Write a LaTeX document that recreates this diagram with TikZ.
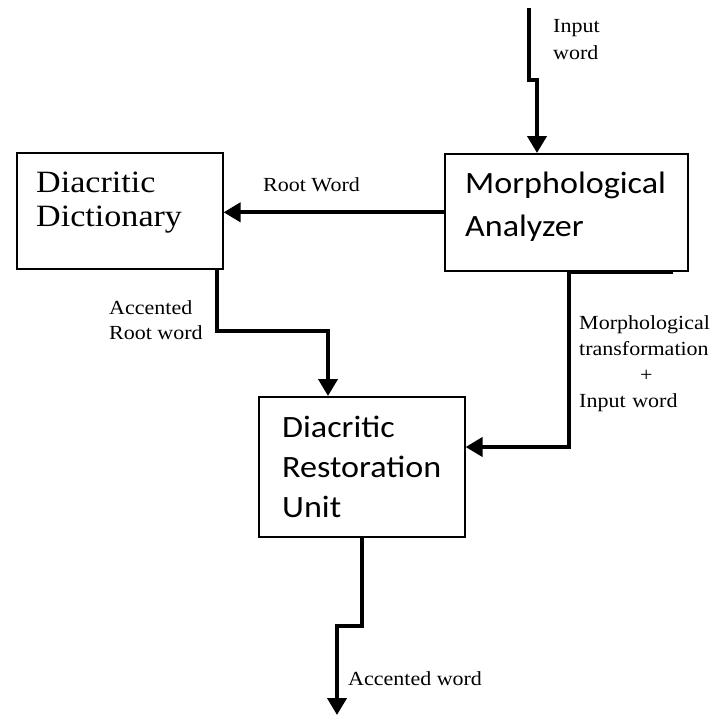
\documentclass[tikz,border=0pt]{standalone}
\usepackage{fontspec}
\setmainfont{Liberation Serif}[FakeStretch=1.1]
\newfontfamily\calfont{Carlito}[FakeStretch=1.1]
\usetikzlibrary{arrows.meta,calc}
\tikzset{
  box/.style={draw, line width=1.6pt, inner sep=0pt, anchor=north west},
  conn/.style={line width=4pt, -{Triangle[length=17pt,width=19pt]}},
  bigserif/.style={font=\fontsize{31}{34}\selectfont, align=left, inner sep=0pt, anchor=base west},
  bigsans/.style={font=\calfont\fontsize{31}{#1}\selectfont, align=left, inner sep=0pt, anchor=base west},
  lbl/.style={font=\fontsize{20}{26}\selectfont, align=left, inner sep=0pt, anchor=base west}
}
\begin{document}
\begin{tikzpicture}[x=1pt,y=-1pt]
\useasboundingbox (0,0) rectangle (717,715);
% boxes
\node[box, minimum width=206pt, minimum height=116pt] (dict) at (16,152) {};
\node[box, minimum width=243pt, minimum height=117pt] (morph) at (444,153) {};
\node[box, minimum width=206pt, minimum height=140pt] (dru) at (258,396) {};
% box texts (anchored at baseline of the last line)
\node[bigserif] (dictT) at (36,226) {Diacritic\\Dictionary};
\node[bigsans=43] (morphT) at (465,236) {Morphological\\Analyzer};
\node[bigsans=40] (druT) at (282,517) {Diacritic\\Restoration\\Unit};
% labels
\node[lbl, font=\fontsize{20}{27}\selectfont] (inL) at (553,59) {Input\\word};
\node[lbl] (rootL) at (263,191) {Root Word};
\node[lbl, font=\fontsize{20}{25}\selectfont] (accL) at (109,339) {Accented\\Root word};
\node[lbl, text width=134pt] (mtL) at (579,329) {Morphological\\transformation\\\makebox[\linewidth]{+}\\Input word};
\node[lbl] (outL) at (348,685) {Accented word};
% coordinates
\coordinate (inTop) at (529,8);
\coordinate (inA) at (529,80);
\coordinate (inB) at (537,80);
\coordinate (d1) at (217,331);
\coordinate (d2) at (328,331);
\coordinate (m1) at (673,271);
\coordinate (m2) at (569,271);
\coordinate (m3) at (569,447);
\coordinate (o1) at (362,626);
\coordinate (o2) at (337,626);
\coordinate (outEnd) at (337,715);
% connectors
\draw[conn] (inTop) -- (inA) -- (inB) -- (inB |- morph.north);
\draw[conn] (morph.west) -- (morph.west -| dict.east);
\draw[conn] (d1 |- dict.south) -- (d1) -- (d2) -- (d2 |- dru.north);
\draw[conn] (m1 |- morph.south) -- (m2 |- morph.south) -- (m3) -- (m3 -| dru.east);
\draw[conn] (o1 |- dru.south) -- (o1) -- (o2) -- (outEnd);
\end{tikzpicture}
\end{document}
